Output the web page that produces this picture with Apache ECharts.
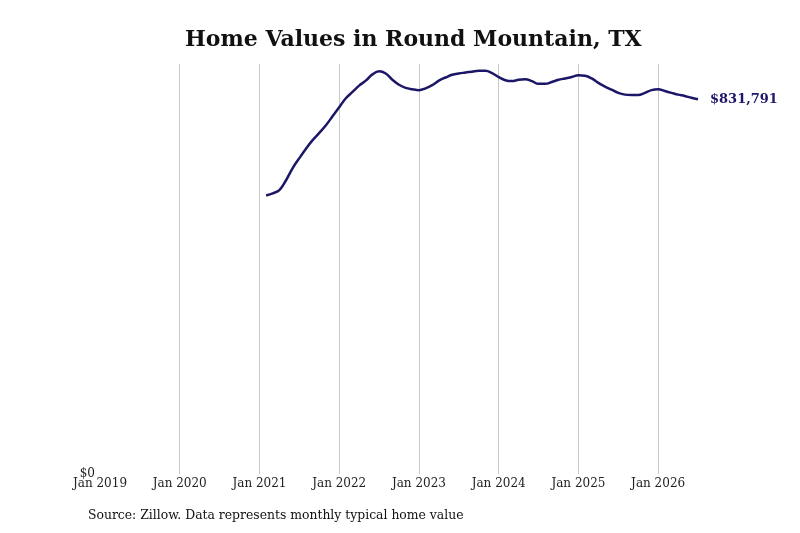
<!DOCTYPE html>
<html lang="en">
<head>
<meta charset="utf-8" />
<title>Home Values in Round Mountain, TX</title>
<script src="https://cdn.jsdelivr.net/npm/echarts@6/dist/echarts.min.js"></script>
<style>
  * { margin: 0; padding: 0; }
  body { width: 800px; height: 533px; background: #fff; }
  #main { width: 800px; height: 533px; }
</style>
</head>
<body>
<div id="main"></div>
<script>
  // months since Jan 2019; first point is Feb 2021
  const startMonth = 25;
  const homeValues = [
    618000, 623000, 630000, 652000, 679000, 701000, 722000, 741000, 757000, 774000, 794000,
    814000, 834000, 848000, 862000, 873000, 887000, 894000, 889000, 875000, 864000, 857000, 854000,
    852000, 856000, 863000, 873000, 880000, 886000, 889000, 891000, 893000, 895000, 895000, 890000,
    881000, 874000, 872000, 875000, 876000, 872000, 866000, 866000, 870000, 875000, 878000, 881000,
    885000, 884000, 878000, 868000, 860000, 853000, 846000, 842000, 841000, 841000, 846000, 852000,
    854000, 850000, 846000, 842000, 839000, 835000, 831791
  ];
  const firstYear = 2019;

  const points = homeValues.map((v, i) => [startMonth + i, v]);
  const lastMonth = startMonth + homeValues.length - 1;

  const chart = echarts.init(document.getElementById("main"));
  const serif = "DejaVu Serif";

  chart.setOption({
    animation: false,
    title: {
      text: "Home Values in Round Mountain, TX",
      left: 180,
      top: 24,
      textStyle: { fontFamily: serif, fontSize: 22, fontWeight: "bold", color: "#111" }
    },
    graphic: [{
      type: "text",
      left: 88,
      top: 510,
      style: {
        text: "Source: Zillow. Data represents monthly typical home value",
        font: "12.4px 'DejaVu Serif'",
        fill: "#111"
      }
    }],
    grid: { left: 100, right: 800 - 698, top: 64, bottom: 533 - 474 },
    xAxis: {
      type: "value",
      min: 0,
      max: lastMonth,
      interval: 12,
      axisLine: { show: false },
      axisTick: { show: false },
      axisLabel: {
        fontFamily: serif,
        fontSize: 12,
        color: "#222",
        margin: 4,
        showMaxLabel: false,
        formatter: (v) => (v % 12 === 0 ? "Jan " + (firstYear + v / 12) : "")
      },
      splitLine: {
        show: true,
        showMinLine: false,
        showMaxLine: false,
        lineStyle: { color: "#c8c8c8", width: 1 }
      }
    },
    yAxis: {
      type: "value",
      min: 0,
      max: 910000,
      axisLine: { show: false },
      axisTick: { show: false },
      splitLine: { show: false },
      axisLabel: {
        fontFamily: serif,
        fontSize: 12,
        color: "#222",
        margin: 5,
        formatter: (v) => (v === 0 ? "$0" : "")
      }
    },
    series: [{
      type: "line",
      data: points,
      smooth: 0.4,
      showSymbol: false,
      lineStyle: { color: "#1c1669", width: 2.5 },
      endLabel: {
        show: true,
        distance: 12,
        fontFamily: serif,
        fontSize: 13,
        fontWeight: "bold",
        color: "#1c1669",
        formatter: (p) => "$" + p.value[1].toLocaleString("en-US")
      }
    }]
  });
</script>
</body>
</html>
